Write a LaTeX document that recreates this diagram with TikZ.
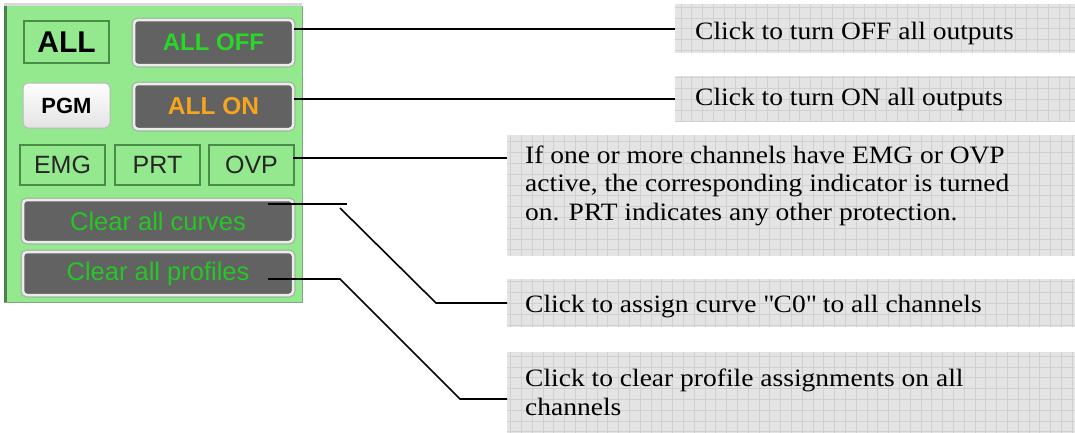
\documentclass[tikz,border=0pt]{standalone}
\usepackage{fontspec}
\setmainfont{Liberation Serif}[FakeStretch=1.1]
\setsansfont{Liberation Sans}

\definecolor{panelgreen}{RGB}{148,232,142}
\definecolor{paneledge}{RGB}{74,130,74}
\definecolor{ledgreen}{RGB}{72,140,72}
\definecolor{btngray}{RGB}{98,98,98}
\definecolor{btnrim}{RGB}{236,236,236}
\definecolor{txtgreen}{RGB}{40,215,40}
\definecolor{txtorange}{RGB}{245,165,30}
\definecolor{notebg}{RGB}{228,228,228}
\definecolor{notegrid}{RGB}{208,208,208}

\tikzset{
  led/.style={draw=ledgreen, line width=1.5pt, fill=panelgreen, minimum width=85pt,
    minimum height=40pt, inner sep=0pt, text=black!85,
    font=\sffamily\fontsize{25}{25}\selectfont},
  btn/.style={rounded corners=4pt, fill=btngray, draw=btnrim, line width=2.5pt,
    preaction={draw=paneledge!55, line width=5pt}, minimum width=159pt,
    minimum height=45pt, inner sep=0pt},
  pgmbtn/.style={rounded corners=5pt, top color=white, bottom color=gray!22,
    draw=gray!55, line width=1pt, minimum width=87pt, minimum height=45pt,
    inner sep=0pt, font=\sffamily\bfseries\fontsize{22}{22}\selectfont},
  note/.style={fill=notebg, inner sep=0pt, anchor=north west,
    path picture={\draw[notegrid, line width=0.6pt, step=10.8pt]
      (path picture bounding box.south west) grid (path picture bounding box.north east);}},
  notetext/.style={anchor=base west, inner sep=0pt, align=left,
    font=\fontsize{25}{28.5}\selectfont},
  lead/.style={line width=1.6pt}
}

\begin{document}
\begin{tikzpicture}[x=1pt, y=-1pt]
    \useasboundingbox (0,0) rectangle (1075,432);
    % control panel
    \fill[panelgreen] (4,6) rectangle (302,302);
    \fill[gray!30] (4,3) rectangle (302,6);
    \fill[paneledge] (4,6) rectangle (7,302);
    \draw[paneledge!70, line width=0.8pt] (302,6) -- (302,302) -- (4,302);

    \node[led, minimum height=42pt, text=black,
      font=\sffamily\bfseries\fontsize{30}{30}\selectfont] (all) at (66.5,42) {ALL};
    \node[btn, text=txtgreen, font=\sffamily\bfseries\fontsize{24}{24}\selectfont]
      (alloff) at (213.5,42.5) {ALL OFF};
    \node[pgmbtn] (pgm) at (66.5,105.5) {PGM};
    \node[btn, text=txtorange, font=\sffamily\bfseries\fontsize{24.5}{24.5}\selectfont]
      (allon) at (213.5,106.5) {ALL ON};
    \node[led] (emg) at (62.5,165) {EMG};
    \node[led] (prt) at (157.5,165) {PRT};
    \node[led] (ovp) at (251.5,165) {OVP};
    \node[btn, minimum width=270pt, minimum height=42pt, text=txtgreen!92!black,
      font=\sffamily\fontsize{25.5}{25.5}\selectfont] (curves) at (158,221) {Clear all curves};
    \node[btn, minimum width=270pt, minimum height=43pt, text=txtgreen!92!black,
      font=\sffamily\fontsize{25.5}{25.5}\selectfont] (profiles) at (158,273.5) {Clear all profiles};

    % notes
    \node[note, minimum width=400pt, minimum height=49pt] (b1) at (675,4) {};
    \node[note, minimum width=400pt, minimum height=46pt] (b2) at (675,76) {};
    \node[note, minimum width=568pt, minimum height=121pt] (b3) at (507,135) {};
    \node[note, minimum width=568pt, minimum height=48pt] (b4) at (507,279) {};
    \node[note, minimum width=568pt, minimum height=94pt] (b5) at (507,352) {};

    % base anchor sits on the last line
    \node[notetext] (t1) at (695,39) {Click to turn OFF all outputs};
    \node[notetext] (t2) at (695,105) {Click to turn ON all outputs};
    \node[notetext] (t3) at (525,220) {If one or more channels have EMG or OVP\\
      active, the corresponding indicator is turned\\on. PRT indicates any other protection.};
    \node[notetext] (t4) at (525,312) {Click to assign curve \textquotedbl C0\textquotedbl\ to all channels};
    \node[notetext] (t5) at (525,415) {Click to clear profile assignments on all\\channels};

    % leaders
    \coordinate (p3) at (293,158);
    \coordinate (p4) at (268,204);
    \coordinate (q4) at (340,208);
    \coordinate (k4) at (436,303);
    \coordinate (p5) at (268,279);
    \coordinate (j5) at (340,279);
    \coordinate (k5) at (460,399);
    \draw[lead] (alloff.east |- b1.west) -- (b1.west);
    \draw[lead] (allon.east |- b2.west) -- (b2.west);
    \draw[lead] (p3) -- (p3 -| b3.west);
    \draw[lead] (p4) -- ++(79,0);
    \draw[lead] (q4) -- (k4) -- (k4 -| b4.west);
    \draw[lead] (p5) -- (j5) -- (k5) -- (k5 -| b5.west);
\end{tikzpicture}
\end{document}
